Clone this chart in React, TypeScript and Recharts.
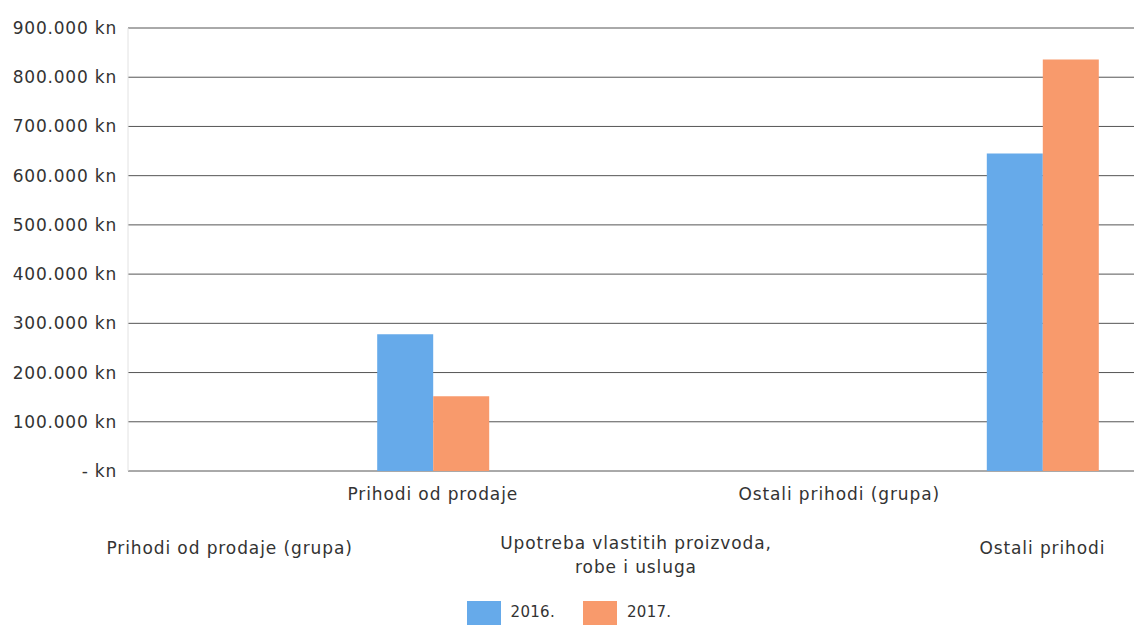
import { BarChart, Bar, XAxis, YAxis, CartesianGrid, Legend } from "recharts";

const categories = [
    "Prihodi od prodaje (grupa)",
    "Prihodi od prodaje",
    "Upotreba vlastitih proizvoda,\nrobe i usluga",
    "Ostali prihodi (grupa)",
    "Ostali prihodi",
];
const values2016 = [0, 278000, 0, 0, 645000];
const values2017 = [0, 152000, 0, 0, 836000];
const yTicks = [0, 100000, 200000, 300000, 400000, 500000, 600000, 700000, 800000, 900000];
const seriesNames = ["2016.", "2017."];
const colors = ["#66aaea", "#f89a6c"];

const data = categories.map((name, i) => ({ name, y2016: values2016[i], y2017: values2017[i] }));

const font = "'DejaVu Sans', Verdana, sans-serif";

function fmt(v: number) {
    if (v === 0) return "- kn";
    return `${v / 1000}.000 kn`;
}

function CatTick({ x, y, payload, index }: any) {
    const lines = String(payload.value).split("\n");
    const base = index % 2 === 1 ? 29 : lines.length > 1 ? 78 : 83;
    return (
        <text x={x} y={y} textAnchor="middle" fill="#333" fontSize={17} fontFamily={font} letterSpacing={0.9}>
            {lines.map((l, i) => (
                <tspan key={i} x={x} dy={i === 0 ? base : 24}>{l}</tspan>
            ))}
        </text>
    );
}

function LegendBox() {
    return (
        <div style={{ display: "flex", justifyContent: "center", paddingRight: 6, fontFamily: font, fontSize: 15, letterSpacing: 0.3, color: "#333", height: 24 }}>
            {seriesNames.map((s, i) => (
                <div key={s} style={{ display: "flex", alignItems: "flex-start", marginRight: i === 0 ? 28 : 0 }}>
                    <div style={{ width: 34, height: 24, background: colors[i], marginRight: 10 }} />
                    <span style={{ lineHeight: "22px" }}>{s}</span>
                </div>
            ))}
        </div>
    );
}

export default function App() {
    return (
        <div style={{ position: "absolute", left: 0, top: 0, width: 1134, height: 625, overflow: "hidden", background: "#fff" }}>
            <BarChart width={1150} height={625} data={data} margin={{ top: 28, right: 6, left: 0, bottom: 0 }}
                barCategoryGap={46} barGap={0}>
                <CartesianGrid vertical={false} stroke="#555" />
                <XAxis dataKey="name" interval={0} height={130} tickSize={0} tickMargin={0} axisLine={false}
                    tick={<CatTick />} />
                <YAxis domain={[0, 900000]} ticks={yTicks} width={128} tickSize={0} tickMargin={11}
                    tickFormatter={fmt} axisLine={{ stroke: "#e2e2e2" }}
                    tick={{ fill: "#333", fontSize: 17, fontFamily: font, letterSpacing: 0.8 }} />
                <Legend verticalAlign="bottom" content={<LegendBox />} />
                <Bar dataKey="y2016" name="2016." fill={colors[0]} isAnimationActive={false} />
                <Bar dataKey="y2017" name="2017." fill={colors[1]} isAnimationActive={false} />
            </BarChart>
        </div>
    );
}
